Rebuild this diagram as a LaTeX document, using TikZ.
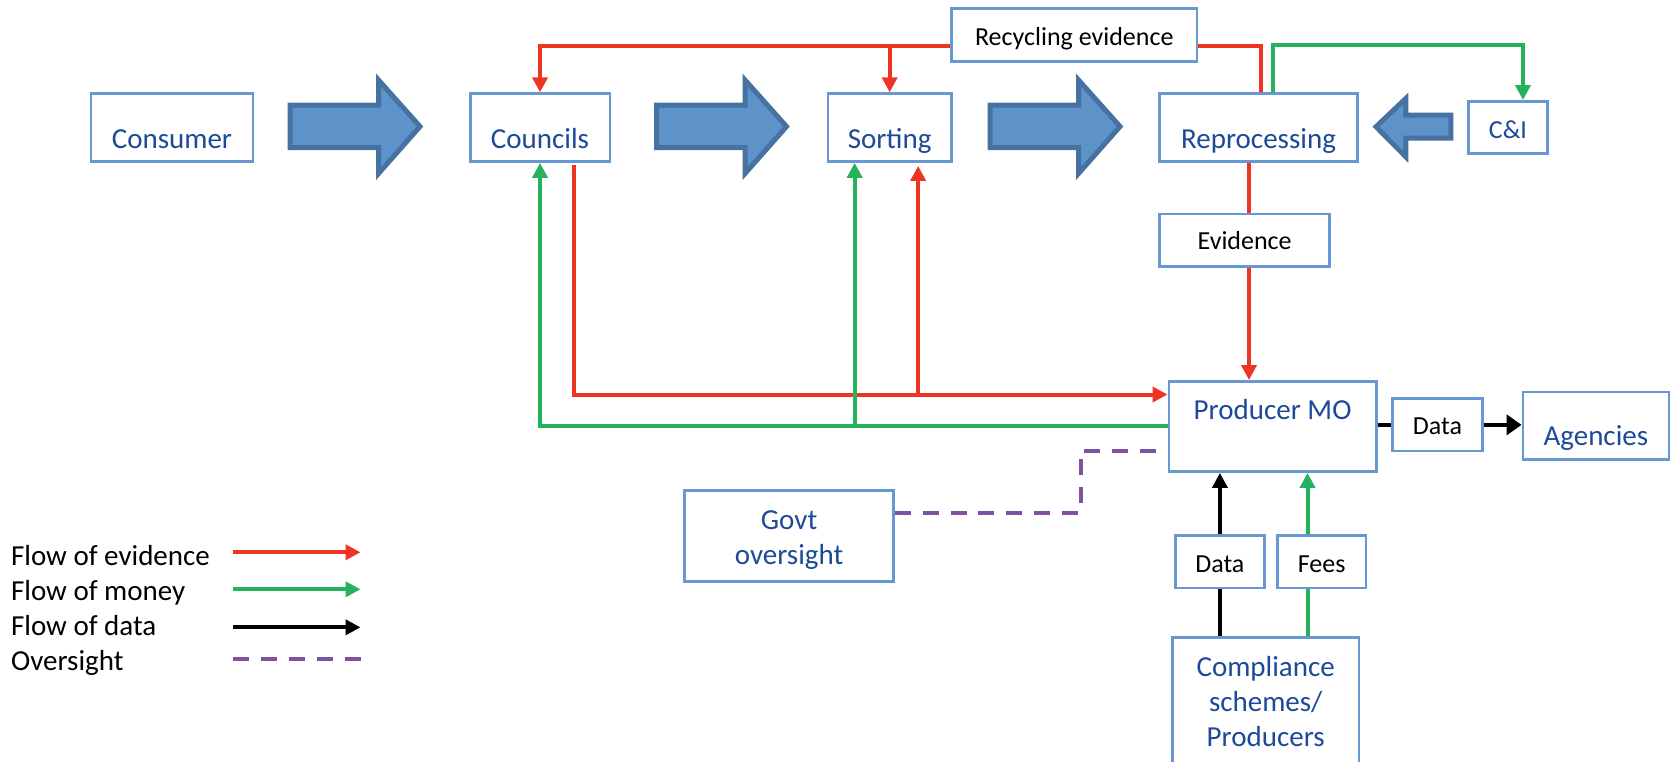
\documentclass[tikz,border=0pt]{standalone}
\usepackage{fontspec}
\setmainfont{Carlito}
\usetikzlibrary{arrows.meta}

\definecolor{boxline}{RGB}{104,152,210}
\definecolor{boxtext}{RGB}{28,74,152}
\definecolor{evidred}{RGB}{238,52,35}
\definecolor{moneygreen}{RGB}{36,178,92}
\definecolor{overpurple}{RGB}{125,80,160}
\definecolor{flowfill}{RGB}{94,147,201}
\definecolor{flowline}{RGB}{69,114,160}

\begin{document}
\begin{tikzpicture}[x=0.5pt,y=-0.5pt,
  box/.style={draw=boxline, line width=1.3pt, fill=white, inner sep=0pt,
    anchor=north west, text=boxtext, font=\fontsize{14.5}{17.5}\selectfont},
  tag/.style={box, text=black, font=\fontsize{13}{15.6}\selectfont},
  legtext/.style={anchor=base west, inner sep=0pt, text=black,
    font=\fontsize{14.5}{17.5}\selectfont},
  tip/.style={-{Triangle[length=7.5pt,width=7.5pt]}},
  bigtip/.style={-{Triangle[length=7.5pt,width=10pt]}},
  evline/.style={draw=evidred, line width=2pt},
  moneyline/.style={draw=moneygreen, line width=2pt},
  dataline/.style={draw=black, line width=2pt},
  overline/.style={draw=overpurple, line width=2pt, dash pattern=on 8pt off 5.95pt},
  bigflow/.style={fill=flowfill, draw=flowline, line width=2.5pt}
]
\fill[white] (0,0) rectangle (1675,761);
\useasboundingbox (0,0) rectangle (1675,761);
\clip (0,0) rectangle (1675,761);

% ---- boxes ----
\node[box, minimum width=81.15pt, text height=27.2pt, text depth=6.8pt] (consumer) at (89.5,92.3) {Consumer};
\node[box, minimum width=69.75pt, text height=27.2pt, text depth=6.8pt] (councils) at (469,92.3) {Councils};
\node[box, minimum width=61.85pt, text height=27.2pt, text depth=6.8pt] (sorting) at (826.5,92.3) {Sorting};
\node[box, minimum width=98.8pt, text height=27.2pt, text depth=6.8pt] (reproc) at (1158.4,92.3) {Reprocessing};
\node[box, font=\fontsize{13}{15.6}\selectfont, minimum width=39.35pt, text height=18.35pt, text depth=7.8pt] (ci) at (1467.3,100) {C\&I};
\node[tag, minimum width=122.75pt, text height=18.35pt, text depth=8pt] (recyc) at (950.2,7.3) {Recycling evidence};
\node[tag, minimum width=84.95pt, text height=17.8pt, text depth=8.35pt] (evid) at (1158.4,212.7) {Evidence};
\node[box, minimum width=103.8pt, text height=19.15pt, text depth=26pt] (pmo) at (1167.5,380) {Producer MO};
\node[tag, minimum width=45pt, text height=18pt, text depth=8.25pt] (data1) at (1391.1,397.3) {Data};
\node[box, minimum width=72.95pt, text height=26.65pt, text depth=7.15pt] (agencies) at (1521.6,390.7) {Agencies};
\node[tag, minimum width=44.7pt, text height=18.2pt, text depth=8pt] (data2) at (1173.9,534.3) {Data};
\node[tag, minimum width=44.2pt, text height=18.2pt, text depth=8pt] (fees) at (1276.1,534.3) {Fees};
\node[box, minimum width=104.4pt, text height=19.65pt, text depth=25.85pt] (govt) at (683.4,489)
  {\begin{tabular}[t]{@{}c@{}}Govt\\oversight\end{tabular}};
\node[box, minimum width=93.2pt, text height=19.5pt, text depth=62.5pt] (comp) at (1171.2,636)
  {\begin{tabular}[t]{@{}c@{}}Compliance\\schemes/\\Producers\end{tabular}};

% ---- material flow arrows ----
\foreach \dx in {0,366.5,700}{
  \begin{scope}[shift={(\dx,0)}]
    \draw[bigflow] (290,105) -- (378.5,105) -- (378.5,80) -- (420,126.5)
      -- (378.5,173.5) -- (378.5,147.5) -- (290,147.5) -- cycle;
  \end{scope}
}
\draw[bigflow] (1450.8,115.2) -- (1405.8,115.2) -- (1405.8,98.5) -- (1376,126.7)
  -- (1405.8,156.8) -- (1405.8,138.2) -- (1450.8,138.2) -- cycle;

% ---- rails ----
\coordinate (redtop) at (0,45.7);
\coordinate (greentop) at (0,44.5);
\coordinate (redrail) at (0,394.5);
\coordinate (evx) at (1249,0);
\coordinate (feex) at (1307.5,0);
\coordinate (ov1) at (1155.8,450.7);
\coordinate (ov2) at (1080.7,512.5);

% ---- evidence ----
\draw[evline, tip] (recyc.west |- redtop) -| (councils.north);
\draw[evline, tip] (sorting.north |- redtop) -- (sorting.north);
\draw[evline] (recyc.east |- redtop) -| ([xshift=1pt]reproc.north);
\draw[evline, tip] ([xshift=16.75pt,yshift=-1pt]councils.south) |- (pmo.west |- redrail);
\draw[evline, tip] ([xshift=14.25pt]sorting.south |- redrail) -- ([xshift=14.25pt,yshift=-1.5pt]sorting.south);
\draw[evline] (reproc.south -| evx) -- (evid.north -| evx);
\draw[evline, tip] (evid.south -| evx) -- (pmo.north -| evx);

% ---- money ----
\draw[moneyline, tip] ([xshift=7pt]reproc.north) |- ([xshift=7.5pt]ci.north |- greentop) -- ([xshift=7.5pt]ci.north);
\draw[moneyline, tip] (pmo.west) -| (councils.south);
\draw[moneyline, tip] ([xshift=-17.5pt]sorting.south |- pmo.west) -- ([xshift=-17.5pt]sorting.south);
\draw[moneyline] (comp.north -| feex) -- (fees.south -| feex);
\draw[moneyline, tip] (fees.north -| feex) -- (pmo.south -| feex);

% ---- data ----
\draw[dataline] (pmo.east |- data1.west) -- (data1.west);
\draw[dataline, line width=2.2pt, bigtip] (data1.east) -- (agencies.west |- data1.east);
\draw[dataline] (comp.north -| data2.south) -- (data2.south);
\draw[dataline, tip] (data2.north) -- (pmo.south -| data2.north);

% ---- oversight ----
\draw[overline] (ov1) -| (ov2) -- (govt.east |- ov2);

% ---- legend ----
\node[legtext] (leg1) at (10.7,565) {Flow of evidence};
\node[legtext] (leg2) at (10.7,600) {Flow of money};
\node[legtext] (leg3) at (10.7,635) {Flow of data};
\node[legtext] (leg4) at (10.7,670) {Oversight};
\draw[evline, tip] (233,552.3) -- ++(127.5,0);
\draw[moneyline, tip] (233,589.3) -- ++(127.5,0);
\draw[dataline, tip] (233,627.3) -- ++(127.5,0);
\draw[overline] (233,659.3) -- ++(127.5,0);
\end{tikzpicture}
\end{document}
